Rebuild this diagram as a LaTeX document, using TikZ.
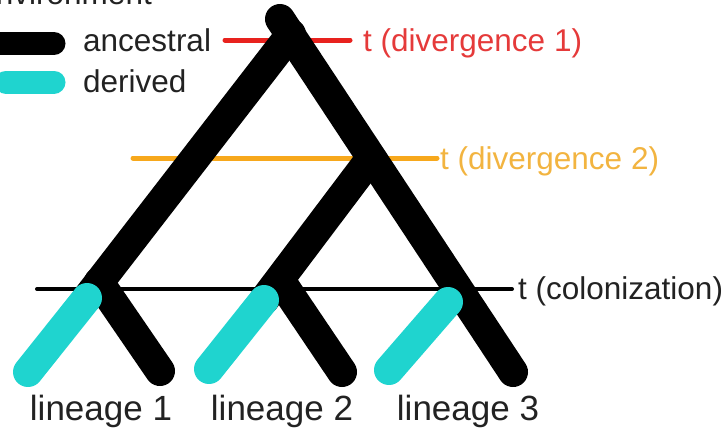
\documentclass[tikz,border=0pt]{standalone}
\usepackage{fontspec}
\setmainfont{Liberation Sans}
\definecolor{derivedcyan}{HTML}{1FD4CF}
\definecolor{divred}{HTML}{E8221E}
\definecolor{divredtext}{HTML}{E53A3A}
\definecolor{divorange}{HTML}{F7A81C}
\definecolor{divorangetext}{HTML}{F2B440}
\definecolor{labeltext}{HTML}{222222}
\begin{document}
\begin{tikzpicture}[x=1pt,y=-1pt,
  branch/.style={line width=30pt, line cap=round, line join=round},
  ancestralbranch/.style={branch, draw=black},
  derivedbranch/.style={branch, draw=derivedcyan},
  legendbar/.style={line width=23pt, line cap=round},
  timeline/.style={line cap=round},
  lbl/.style={font=\fontsize{31.5}{33}\selectfont, inner sep=0pt, anchor=base west, text=labeltext},
  lineagelbl/.style={font=\fontsize{35}{38}\selectfont, inner sep=0pt, anchor=base, text=labeltext},
]
\clip (0,0) rectangle (727,431);

% ---- legend ----
\node[lbl, anchor=base east] (envtitle) at (152,5) {environment};
\coordinate (legA0) at (-20,43.5); \coordinate (legA1) at (54,43.5);
\coordinate (legD0) at (6,82);     \coordinate (legD1) at (54,82);
\draw[legendbar, black] (legA0) -- (legA1);
\draw[legendbar, derivedcyan] (legD0) -- (legD1);
\node[lbl] (ancestral) at (83,51) {ancestral};
\node[lbl] (derived) at (83,92) {derived};

% ---- time markers (drawn behind the tree) ----
\node[lbl, text=divredtext] (tdivone) at (363,51) {t (divergence 1)};
\coordinate (redL) at (225,40);   \coordinate (redR) at (350,40);
\draw[timeline, line width=5pt, divred] (redL) -- (redR);

\node[lbl, text=divorangetext] (tdivtwo) at (440,169) {t (divergence 2)};
\coordinate (orL) at (133,158);   \coordinate (orR) at (437,158);
\draw[timeline, line width=5pt, divorange] (orL) -- (orR);

\node[lbl] (tcol) at (518,299) {t (colonization)};
\coordinate (colL) at (37,289);   \coordinate (colR) at (512,289);
\draw[timeline, line width=4pt, black] (colL) -- (colR);

% ---- tree ----
\coordinate (top)  at (280,19);   % crown of the tree
\coordinate (leftleg) at (291,34);
\coordinate (dtwo) at (371,158);  % second split
\coordinate (colone) at (99,282);
\coordinate (coltwo) at (280,280);
\coordinate (cyone) at (87,298);  \coordinate (endonec) at (28,372);
\coordinate (cytwo) at (264,300); \coordinate (endtwoc) at (209,369);
\coordinate (cythree) at (448,302); \coordinate (endthreec) at (389,370);
\coordinate (endone) at (160,371);
\coordinate (endtwo) at (342,372);
\coordinate (endthree) at (513,372);

% ancestral branches
\draw[ancestralbranch] (top) -- (endthree);
\draw[ancestralbranch] (leftleg) -- (cyone);
\draw[ancestralbranch] (dtwo) -- (cytwo);
\draw[ancestralbranch] (colone) -- (endone);
\draw[ancestralbranch] (coltwo) -- (endtwo);

% derived branches after colonization
\draw[derivedbranch] (cyone) -- (endonec);
\draw[derivedbranch] (cytwo) -- (endtwoc);
\draw[derivedbranch] (cythree) -- (endthreec);

% ---- lineage labels ----
\node[lineagelbl] (linone) at (101,420) {lineage 1};
\node[lineagelbl] (lintwo) at (282,420) {lineage 2};
\node[lineagelbl] (linthree) at (468,420) {lineage 3};
\end{tikzpicture}
\end{document}
